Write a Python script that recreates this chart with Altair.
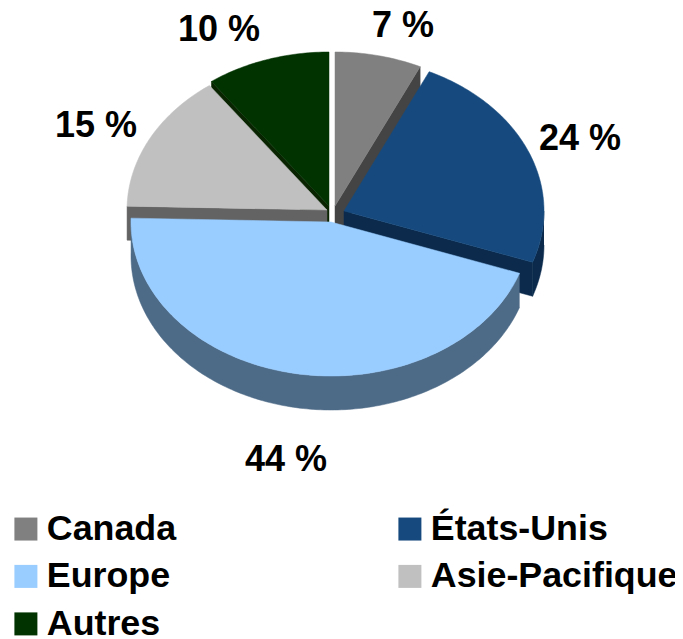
import math
import altair as alt
import pandas as pd

categories = ["Canada", "États-Unis", "Europe", "Asie-Pacifique", "Autres"]
shares = [7.0, 23.4, 45.0, 14.6, 10.0]
pct_labels = ["7 %", "24 %", "44 %", "15 %", "10 %"]
top_colors = ["#808080", "#164a7e", "#99ccff", "#c0c0c0", "#003300"]
cut_colors = ["#444444", "#0b2a4c", "#4d6a87", "#636363", "#082400"]

# layout constants of the exploded pie
RX, RY, DEPTH = 200, 154, 34
apex = {"Canada": (335, 206), "États-Unis": (344, 211), "Europe": (331, 222),
        "Asie-Pacifique": (327, 210), "Autres": (329, 206)}
label_pos = {"Canada": (403, 37), "États-Unis": (580, 150), "Europe": (286, 471),
             "Asie-Pacifique": (96, 137), "Autres": (219, 41)}

angles = {}
c = 0.0
for cat, s in zip(categories, shares):
    angles[cat] = (c * 3.6, (c + s) * 3.6)
    c += s


def rim(cat, a0, a1, dy=0):
    ax, ay = apex[cat]
    n = max(2, int(abs(a1 - a0)) + 1)
    out = []
    for i in range(n + 1):
        a = math.radians(a0 + (a1 - a0) * i / n)
        out.append((ax + RX * math.sin(a), ay - RY * math.cos(a) + dy))
    return out


def top(cat):
    a0, a1 = angles[cat]
    return [apex[cat]] + rim(cat, a0, a1) + [apex[cat]]


def cut(cat, a):
    ax, ay = apex[cat]
    r = rim(cat, a, a, 0)[0]
    return [(ax, ay), r, (r[0], r[1] + DEPTH), (ax, ay + DEPTH), (ax, ay)]


def band(cat, a0, a1):
    return rim(cat, a0, a1) + rim(cat, a1, a0, DEPTH)


cmap = dict(zip(categories, cut_colors))
tmap = dict(zip(categories, top_colors))
a = angles
faces_back = [
    ("Canada", cut("Canada", a["Canada"][1])),
    ("Autres", cut("Autres", a["Autres"][0])),
    ("Asie-Pacifique", cut("Asie-Pacifique", a["Asie-Pacifique"][0])),
]
faces_front = [
    ("États-Unis", cut("États-Unis", a["États-Unis"][1])),
    ("États-Unis", band("États-Unis", 90, a["États-Unis"][1])),
    ("Europe", band("Europe", a["Europe"][0], a["Europe"][1])),
]

X = alt.X("x:Q", axis=None, scale=alt.Scale(domain=[8, 675], nice=False, zero=False))
Y = alt.Y("y:Q", axis=None, scale=alt.Scale(domain=[639, 8], nice=False, zero=False))


def poly_df(pts, cat):
    return pd.DataFrame([{"x": p[0], "y": p[1], "i": i, "cat": cat} for i, p in enumerate(pts)])


def side_layer(cat, pts):
    return alt.Chart(poly_df(pts, cat)).mark_line(
        fill=cmap[cat], stroke=cmap[cat], strokeWidth=0.5
    ).encode(x=X, y=Y, order="i:Q")


color = alt.Color(
    "cat:N",
    scale=alt.Scale(domain=categories, range=top_colors),
    legend=alt.Legend(
        title=None, orient="none", legendX=0, legendY=503, columns=2, direction="horizontal",
        padding=0, symbolType="square", symbolSize=529, symbolStrokeWidth=0,
        symbolOpacity=1, labelFont="Liberation Sans", labelFontWeight="bold",
        labelFontSize=35.8, labelColor="#000000", labelOffset=3,
        rowPadding=10.5, columnPadding=215, labelLimit=400,
    ),
)


def top_layer(cat):
    return alt.Chart(poly_df(top(cat), cat)).mark_line(
        fill=tmap[cat], stroke=tmap[cat], strokeWidth=0.5
    ).encode(x=X, y=Y, order="i:Q")


legend_df = pd.DataFrame({"cat": categories, "x": [apex[k][0] for k in categories],
                          "y": [apex[k][1] for k in categories]})
legend_layer = alt.Chart(legend_df).mark_point(filled=True, opacity=0, size=1).encode(
    x=X, y=Y, color=color
)

labels_df = pd.DataFrame({"label": pct_labels,
                          "x": [label_pos[k][0] for k in categories],
                          "y": [label_pos[k][1] for k in categories]})
label_layer = alt.Chart(labels_df).mark_text(
    font="Liberation Sans", fontWeight="bold", fontSize=36, color="#000000",
    baseline="alphabetic", align="center"
).encode(x=X, y=Y, text="label:N")

layers = [side_layer(k, p) for k, p in faces_back]
layers += [top_layer(k) for k in ["Canada", "Autres", "Asie-Pacifique"]]
layers += [side_layer(k, p) for k, p in faces_front]
layers += [top_layer(k) for k in ["États-Unis", "Europe"]]
layers += [legend_layer, label_layer]

chart = alt.layer(*layers).properties(
    width=667, height=631, padding=0, autosize=alt.AutoSizeParams(type="none")
).configure_view(stroke=None)

chart.save("out.html", embed_options={"renderer": "svg", "actions": False})
